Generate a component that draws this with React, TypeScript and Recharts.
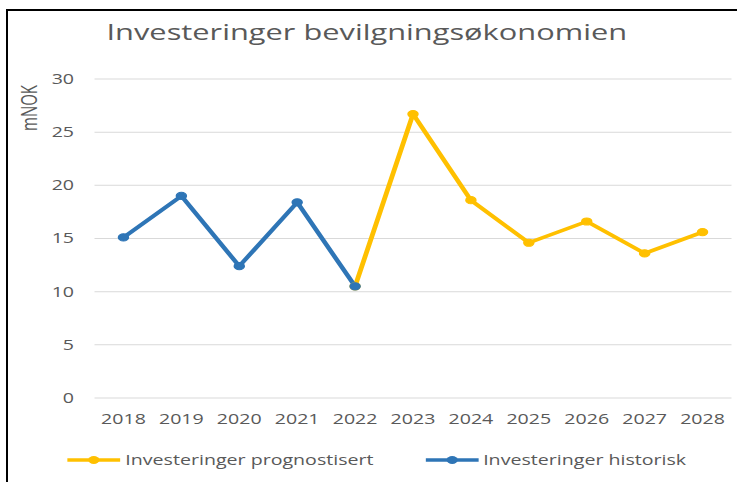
import React from 'react';
import { LineChart, Line, XAxis, YAxis, CartesianGrid, Legend } from 'recharts';

// ---- data ----
const years = ['2018', '2019', '2020', '2021', '2022', '2023', '2024', '2025', '2026', '2027', '2028'];
const historisk: (number | null)[] = [15.1, 19.0, 12.4, 18.4, 10.5, null, null, null, null, null, null];
const prognostisert: (number | null)[] = [null, null, null, null, 10.5, 26.7, 18.6, 14.6, 16.6, 13.6, 15.6];
const yTicks = [0, 5, 10, 15, 20, 25, 30];

const title = 'Investeringer bevilgningsøkonomien';
const yLabel = 'mNOK';
const nameProg = 'Investeringer prognostisert';
const nameHist = 'Investeringer historisk';

const data = years.map((y, i) => ({ year: y, prog: prognostisert[i], hist: historisk[i] }));

// ---- layout ----
const K = 1.4; // horizontal stretch of the original picture
const CW = 527;
const CH = 482;
const FONT = '"Open Sans", sans-serif';
const GRAY = '#595959';
const BLUE = '#2E75B6';
const YELLOW = '#FFC000';

const legendLeft: Record<string, number> = {
  [nameProg]: 48,
  [nameHist]: 303.6,
};

const renderLegend = (props: any) => {
  const payload = props.payload || [];
  return (
    <div style={{ position: 'relative', width: CW, height: 20 }}>
      {payload.map((entry: any) => (
        <div
          key={entry.value}
          style={{
            position: 'absolute',
            left: legendLeft[entry.value] ?? 0,
            top: 0,
            height: 20,
            display: 'flex',
            alignItems: 'center',
            whiteSpace: 'nowrap',
          }}
        >
          <svg width={38} height={20} style={{ display: 'block' }}>
            <line x1={0} y1={10} x2={38} y2={10} stroke={entry.color} strokeWidth={3.5} />
            <circle cx={19} cy={10} r={4} fill={entry.color} />
          </svg>
          <span style={{ marginLeft: 3.5, fontSize: 14, color: GRAY, fontFamily: FONT, lineHeight: '20px' }}>
            {entry.value}
          </span>
        </div>
      ))}
    </div>
  );
};

export default function App() {
  return (
    <div style={{ position: 'absolute', left: 0, top: 0, width: 737, height: 482, overflow: 'hidden', background: '#fff' }}>
      {/* frame */}
      <div
        style={{
          position: 'absolute',
          left: 6,
          top: 9,
          width: 800,
          height: 500,
          borderTop: '2px solid #000',
          borderLeft: '2px solid #000',
        }}
      />
      <div
        style={{
          position: 'absolute',
          left: 0,
          top: 0,
          width: CW,
          height: CH,
          transform: `scaleX(${K})`,
          transformOrigin: 'left top',
          fontFamily: FONT,
        }}
      >
        <LineChart width={CW} height={CH} data={data} margin={{ top: 79, right: 4.5, bottom: 34, left: 0 }}>
          <CartesianGrid vertical={false} stroke="#D9D9D9" strokeWidth={1} />
          <XAxis
            dataKey="year"
            axisLine={false}
            tickLine={false}
            tickSize={0}
            tickMargin={16.5}
            height={30}
            interval={0}
            padding={{ left: 20.68, right: 20.68 }}
            tick={{ fontSize: 14, fill: GRAY, fontFamily: FONT }}
          />
          <YAxis
            domain={[0, 30]}
            ticks={yTicks}
            width={67.5}
            axisLine={false}
            tickLine={false}
            tickSize={0}
            tickMargin={14.6}
            tick={{ fontSize: 14, fill: GRAY, fontFamily: FONT }}
          />
          <Legend
            verticalAlign="bottom"
            content={renderLegend}
            wrapperStyle={{ left: 0, top: 450, bottom: 'auto', width: CW, height: 20 }}
          />
          <Line
            dataKey="prog"
            name={nameProg}
            stroke={YELLOW}
            strokeWidth={3.5}
            strokeLinejoin="round"
            dot={{ r: 3.6, fill: YELLOW, stroke: YELLOW, strokeWidth: 1 }}
            activeDot={false}
            isAnimationActive={false}
            connectNulls={false}
          />
          <Line
            dataKey="hist"
            name={nameHist}
            stroke={BLUE}
            strokeWidth={3.5}
            strokeLinejoin="round"
            dot={{ r: 3.6, fill: BLUE, stroke: BLUE, strokeWidth: 1 }}
            activeDot={false}
            isAnimationActive={false}
            connectNulls={false}
          />
        </LineChart>
        <svg
          width={CW}
          height={CH}
          style={{ position: 'absolute', left: 0, top: 0, pointerEvents: 'none' }}
        >
          <text x={262} y={40} textAnchor="middle" fontSize={22} fill={GRAY} fontFamily={FONT}>
            {title}
          </text>
          <text
            x={21}
            y={108}
            textAnchor="middle"
            dominantBaseline="central"
            fontSize={15}
            fill={GRAY}
            fontFamily={FONT}
            transform="rotate(-90, 21, 108)"
          >
            {yLabel}
          </text>
        </svg>
      </div>
    </div>
  );
}
